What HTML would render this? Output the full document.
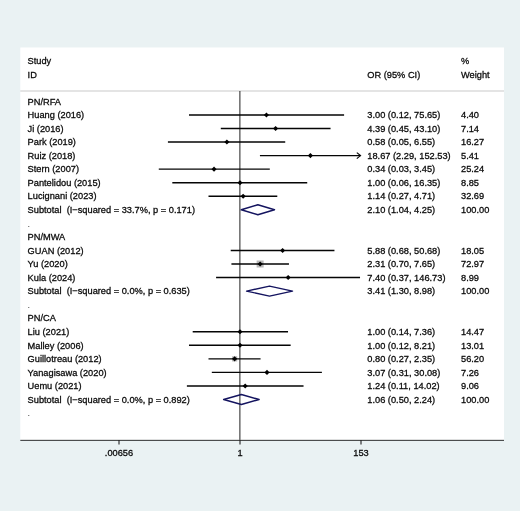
<!DOCTYPE html>
<html><head><meta charset="utf-8"><title>Forest plot</title>
<style>
html,body{margin:0;padding:0;background:#eaf2f3;}
body{width:520px;height:511px;overflow:hidden;}
svg{display:block;filter:blur(0.27px);}
text{font-family:"Liberation Sans",sans-serif;font-size:9.25px;fill:#0a0a0a;stroke:#0a0a0a;stroke-width:0.28px;white-space:pre;}
</style></head><body>
<svg width="520" height="511" viewBox="0 0 520 511">
<rect x="0" y="0" width="520" height="511" fill="#eaf2f3"/>
<rect x="20.3" y="47.5" width="483.7" height="392.4" fill="#ffffff"/>
<line x1="20.3" y1="91" x2="504" y2="91" stroke="#c9c9c9" stroke-width="1.1"/>
<line x1="239.9" y1="91" x2="239.9" y2="439.9" stroke="#151515" stroke-width="0.95"/>
<line x1="20.3" y1="440.34999999999997" x2="504" y2="440.34999999999997" stroke="#1a1a1a" stroke-width="0.9"/>

<line x1="119" y1="439.9" x2="119" y2="444.6" stroke="#222" stroke-width="1.1"/>
<text x="119" y="456" text-anchor="middle">.00656</text>
<line x1="240" y1="439.9" x2="240" y2="444.6" stroke="#222" stroke-width="1.1"/>
<text x="240" y="456" text-anchor="middle">1</text>
<line x1="361" y1="439.9" x2="361" y2="444.6" stroke="#222" stroke-width="1.1"/>
<text x="361" y="456" text-anchor="middle">153</text>
<text x="27.6" y="64.3" xml:space="preserve">Study</text>
<text x="27.6" y="77.6" xml:space="preserve">ID</text>
<text x="367.3" y="77.6">OR (95% CI)</text>
<text x="461.0" y="64.3">%</text>
<text x="461.0" y="77.6">Weight</text>
<text x="27.6" y="104.60" xml:space="preserve">PN/RFA</text>
<text x="27.6" y="118.15" xml:space="preserve">Huang (2016)</text>
<text x="367.3" y="118.15">3.00 (0.12, 75.65)</text>
<text x="461.0" y="118.15">4.40</text>
<line x1="188.99" y1="114.95" x2="344.09" y2="114.95" stroke="#050505" stroke-width="1.4"/>
<polygon points="263.88,114.95 266.43,112.40 268.98,114.95 266.43,117.50" fill="#000"/>
<text x="27.6" y="131.70" xml:space="preserve">Ji (2016)</text>
<text x="367.3" y="131.70">4.39 (0.45, 43.10)</text>
<text x="461.0" y="131.70">7.14</text>
<line x1="220.79" y1="128.50" x2="330.55" y2="128.50" stroke="#050505" stroke-width="1.4"/>
<polygon points="273.04,128.50 275.59,125.95 278.14,128.50 275.59,131.05" fill="#000"/>
<text x="27.6" y="145.25" xml:space="preserve">Park (2019)</text>
<text x="367.3" y="145.25">0.58 (0.05, 6.55)</text>
<text x="461.0" y="145.25">16.27</text>
<line x1="167.92" y1="142.05" x2="285.22" y2="142.05" stroke="#050505" stroke-width="1.4"/>
<polygon points="224.34,142.05 226.89,139.50 229.44,142.05 226.89,144.60" fill="#000"/>
<text x="27.6" y="158.80" xml:space="preserve">Ruiz (2018)</text>
<text x="367.3" y="158.80">18.67 (2.29, 152.53)</text>
<text x="461.0" y="158.80">5.41</text>
<line x1="259.93" y1="155.60" x2="360.50" y2="155.60" stroke="#050505" stroke-width="1.4"/>
<polyline points="356.80,152.60 360.50,155.60 356.80,158.60" fill="none" stroke="#0a0a0a" stroke-width="1.2"/>
<polygon points="307.87,155.60 310.42,153.05 312.97,155.60 310.42,158.15" fill="#000"/>
<text x="27.6" y="172.35" xml:space="preserve">Stern (2007)</text>
<text x="367.3" y="172.35">0.34 (0.03, 3.45)</text>
<text x="461.0" y="172.35">25.24</text>
<line x1="158.78" y1="169.15" x2="269.80" y2="169.15" stroke="#050505" stroke-width="1.4"/>
<polygon points="211.49,169.15 214.04,166.60 216.59,169.15 214.04,171.70" fill="#000"/>
<text x="27.6" y="185.90" xml:space="preserve">Pantelidou (2015)</text>
<text x="367.3" y="185.90">1.00 (0.06, 16.35)</text>
<text x="461.0" y="185.90">8.85</text>
<line x1="172.31" y1="182.70" x2="307.23" y2="182.70" stroke="#050505" stroke-width="1.4"/>
<polygon points="237.45,182.70 240.00,180.15 242.55,182.70 240.00,185.25" fill="#000"/>
<text x="27.6" y="199.45" xml:space="preserve">Lucignani (2023)</text>
<text x="367.3" y="199.45">1.14 (0.27, 4.71)</text>
<text x="461.0" y="199.45">32.69</text>
<line x1="208.50" y1="196.25" x2="277.29" y2="196.25" stroke="#050505" stroke-width="1.4"/>
<polygon points="240.60,196.25 243.15,193.70 245.70,196.25 243.15,198.80" fill="#000"/>
<text x="27.6" y="213.00" xml:space="preserve">Subtotal  (I−squared = 33.7%, p = 0.171)</text>
<text x="367.3" y="213.00">2.10 (1.04, 4.25)</text>
<text x="461.0" y="213.00">100.00</text>
<polygon points="241.24,209.80 257.85,204.80 274.51,209.80 257.85,214.80" fill="none" stroke="#14145f" stroke-width="1.45" stroke-linejoin="round"/>
<text x="27.6" y="226.75" style="stroke:none;fill:#444">.</text>
<text x="27.6" y="240.10" xml:space="preserve">PN/MWA</text>
<text x="27.6" y="253.65" xml:space="preserve">GUAN (2012)</text>
<text x="367.3" y="253.65">5.88 (0.68, 50.68)</text>
<text x="461.0" y="253.65">18.05</text>
<line x1="230.72" y1="250.45" x2="334.45" y2="250.45" stroke="#050505" stroke-width="1.4"/>
<polygon points="280.07,250.45 282.62,247.90 285.17,250.45 282.62,253.00" fill="#000"/>
<text x="27.6" y="267.20" xml:space="preserve">Yu (2020)</text>
<text x="367.3" y="267.20">2.31 (0.70, 7.65)</text>
<text x="461.0" y="267.20">72.97</text>
<rect x="256.64" y="260.50" width="7.00" height="7.00" fill="#b8b8b8"/>
<line x1="231.42" y1="264.00" x2="288.96" y2="264.00" stroke="#050505" stroke-width="1.4"/>
<polygon points="257.59,264.00 260.14,261.45 262.69,264.00 260.14,266.55" fill="#000"/>
<text x="27.6" y="280.75" xml:space="preserve">Kula (2024)</text>
<text x="367.3" y="280.75">7.40 (0.37, 146.73)</text>
<text x="461.0" y="280.75">8.99</text>
<line x1="216.08" y1="277.55" x2="360.03" y2="277.55" stroke="#050505" stroke-width="1.4"/>
<polygon points="285.61,277.55 288.16,275.00 290.71,277.55 288.16,280.10" fill="#000"/>
<text x="27.6" y="294.30" xml:space="preserve">Subtotal  (I−squared = 0.0%, p = 0.635)</text>
<text x="367.3" y="294.30">3.41 (1.30, 8.98)</text>
<text x="461.0" y="294.30">100.00</text>
<polygon points="246.61,291.10 269.51,286.10 292.51,291.10 269.51,296.10" fill="none" stroke="#14145f" stroke-width="1.45" stroke-linejoin="round"/>
<text x="27.6" y="308.05" style="stroke:none;fill:#444">.</text>
<text x="27.6" y="321.40" xml:space="preserve">PN/CA</text>
<text x="27.6" y="334.95" xml:space="preserve">Liu (2021)</text>
<text x="367.3" y="334.95">1.00 (0.14, 7.36)</text>
<text x="461.0" y="334.95">14.47</text>
<line x1="192.70" y1="331.75" x2="288.03" y2="331.75" stroke="#050505" stroke-width="1.4"/>
<polygon points="237.45,331.75 240.00,329.20 242.55,331.75 240.00,334.30" fill="#000"/>
<text x="27.6" y="348.50" xml:space="preserve">Malley (2006)</text>
<text x="367.3" y="348.50">1.00 (0.12, 8.21)</text>
<text x="461.0" y="348.50">13.01</text>
<line x1="188.99" y1="345.30" x2="290.65" y2="345.30" stroke="#050505" stroke-width="1.4"/>
<polygon points="237.45,345.30 240.00,342.75 242.55,345.30 240.00,347.85" fill="#000"/>
<text x="27.6" y="362.05" xml:space="preserve">Guillotreau (2012)</text>
<text x="367.3" y="362.05">0.80 (0.27, 2.35)</text>
<text x="461.0" y="362.05">56.20</text>
<rect x="232.03" y="356.25" width="5.21" height="5.21" fill="#b8b8b8"/>
<line x1="208.50" y1="358.85" x2="260.56" y2="358.85" stroke="#050505" stroke-width="1.4"/>
<polygon points="232.08,358.85 234.63,356.30 237.18,358.85 234.63,361.40" fill="#000"/>
<text x="27.6" y="375.60" xml:space="preserve">Yanagisawa (2020)</text>
<text x="367.3" y="375.60">3.07 (0.31, 30.08)</text>
<text x="461.0" y="375.60">7.26</text>
<line x1="211.82" y1="372.40" x2="321.90" y2="372.40" stroke="#050505" stroke-width="1.4"/>
<polygon points="264.44,372.40 266.99,369.85 269.54,372.40 266.99,374.95" fill="#000"/>
<text x="27.6" y="389.15" xml:space="preserve">Uemu (2021)</text>
<text x="367.3" y="389.15">1.24 (0.11, 14.02)</text>
<text x="461.0" y="389.15">9.06</text>
<line x1="186.89" y1="385.95" x2="303.53" y2="385.95" stroke="#050505" stroke-width="1.4"/>
<polygon points="242.63,385.95 245.18,383.40 247.73,385.95 245.18,388.50" fill="#000"/>
<text x="27.6" y="402.70" xml:space="preserve">Subtotal  (I−squared = 0.0%, p = 0.892)</text>
<text x="367.3" y="402.70">1.06 (0.50, 2.24)</text>
<text x="461.0" y="402.70">100.00</text>
<polygon points="223.62,399.50 241.40,394.50 259.10,399.50 241.40,404.50" fill="none" stroke="#14145f" stroke-width="1.45" stroke-linejoin="round"/>
<text x="27.6" y="416.45" style="stroke:none;fill:#444">.</text>
</svg></body></html>
